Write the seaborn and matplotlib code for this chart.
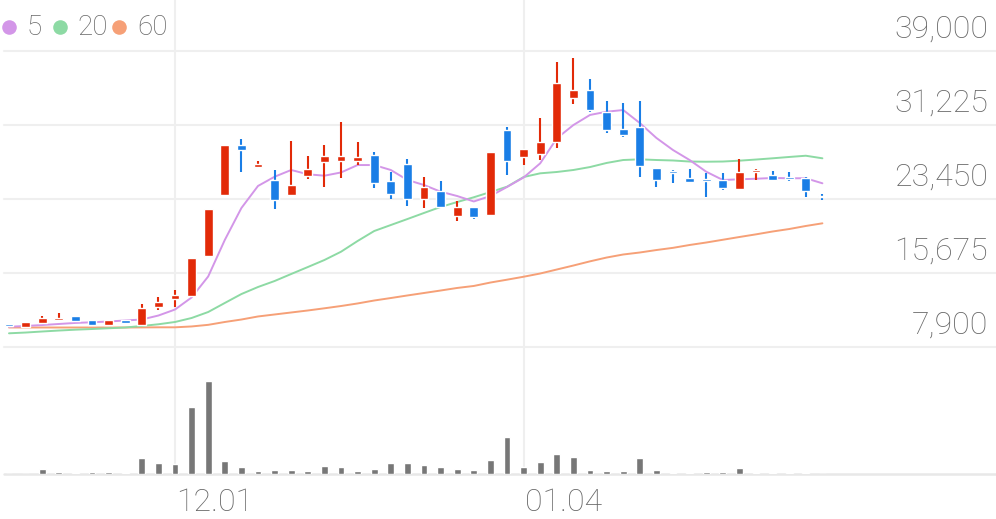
import pandas as pd
import seaborn as sns
import matplotlib.pyplot as plt
from matplotlib.lines import Line2D

# daily candles (price in KRW)
opens = [10200, 10020, 10400, 10730, 11150, 10720, 10230, 10720, 10230, 12060,
         12870, 13220, 17450, 23850, 29160, 26810, 25390, 23870, 25810, 27340,
         27400, 27400, 28110, 25280, 27120, 23450, 24230, 21690, 22640, 21760,
         30680, 27880, 28180, 29410, 34110, 34910, 32580, 30750, 31000, 26700,
         26340, 25700, 25540, 25390, 24510, 26280, 25990, 25740, 25700, 23770]
highs = [10200, 10470, 11180, 11470, 11150, 10720, 10720, 10720, 12420, 13120,
         13900, 17240, 22430, 29130, 29700, 27470, 26450, 29560, 27930, 29090,
         31500, 29450, 28390, 26270, 27650, 25750, 25280, 23270, 22640, 28390,
         31040, 28750, 31990, 37810, 38230, 36110, 33750, 33510, 33750, 26700,
         26520, 26600, 26170, 26200, 27680, 26630, 26340, 26240, 25700, 23980]
lows = [10100, 10020, 10400, 10730, 10580, 10150, 10040, 10360, 10230, 11810,
        12060, 13100, 17350, 23850, 26280, 26810, 22430, 23870, 25540, 24690,
        25630, 27050, 24580, 23450, 22710, 22470, 22570, 21160, 21340, 21760,
        25990, 27040, 27510, 28830, 33400, 32590, 30330, 29980, 25710, 24650,
        25110, 25180, 23630, 24400, 24510, 25460, 25280, 25280, 23700, 23350]
closes = [10100, 10470, 10940, 10970, 10580, 10150, 10720, 10360, 11990, 12590,
          13300, 17240, 22430, 29130, 28560, 27130, 23340, 24860, 26550, 27930,
          28000, 27870, 25110, 23980, 23420, 24750, 22570, 22570, 21580, 28390,
          27400, 28750, 29410, 35690, 34910, 32790, 30680, 30220, 26940, 25460,
          26200, 25180, 25360, 24580, 26240, 26520, 25390, 25570, 24230, 23600]
volume = [0.7, 0.7, 5.3, 2.7, 1.3, 2.0, 2.0, 1.0, 16.3, 11.7,
          10.3, 67.3, 93.0, 13.7, 7.0, 3.7, 4.7, 4.7, 3.3, 8.7,
          7.0, 3.0, 5.3, 11.7, 11.7, 9.0, 7.7, 5.3, 4.3, 14.3,
          37.3, 7.0, 12.7, 20.7, 17.3, 4.7, 3.7, 3.0, 16.0, 4.7,
          1.3, 1.3, 2.3, 2.0, 6.0, 1.3, 1.3, 1.0, 1.3, 0.7]

# moving averages
ma5 = [10000, 10080, 10180, 10290, 10400, 10470, 10550, 10660, 10760, 11180,
       11810, 13080, 15290, 19130, 22490, 24810, 25780, 26490, 26040, 25890,
       26230, 27010, 27010, 26490, 25440, 24910, 24210, 23750, 23180, 23750,
       24700, 25700, 27190, 29820, 31220, 32280, 32620, 32800, 31430, 29860,
       28590, 27540, 26310, 25440, 25510, 25570, 25650, 25620, 25620, 25090]
ma20 = [9310, 9390, 9500, 9600, 9690, 9760, 9840, 9920, 10080, 10260,
        10500, 10920, 11550, 12500, 13440, 14180, 14810, 15550, 16280, 17020,
        17890, 19020, 20070, 20700, 21330, 21970, 22600, 23120, 23620, 24170,
        24730, 25750, 26140, 26280, 26490, 26800, 27230, 27540, 27610, 27540,
        27490, 27380, 27360, 27380, 27470, 27590, 27720, 27860, 27990, 27720]
ma60 = [9920, 9920, 9920, 9920, 9920, 9920, 9920, 9920, 9930, 9940,
        9940, 10030, 10200, 10500, 10760, 11080, 11290, 11500, 11710, 11940,
        12180, 12450, 12760, 13020, 13290, 13550, 13810, 14080, 14290, 14650,
        14950, 15260, 15600, 16020, 16440, 16880, 17280, 17600, 17810, 18070,
        18300, 18600, 18860, 19150, 19440, 19720, 20020, 20280, 20600, 20880]

price_ticks = [7900, 15675, 23450, 31225, 39000]
date_pos = [10, 31]
date_labels = ["12.01", "01.04"]

df = pd.DataFrame({"open": opens, "high": highs, "low": lows, "close": closes,
                   "volume": volume, "ma5": ma5, "ma20": ma20, "ma60": ma60})
df["idx"] = range(len(df))

sns.set_theme(style="white")
plt.rcParams["font.family"] = ["Roboto", "DejaVu Sans"]

RED, BLUE = "#e22a08", "#1a7ee6"
C5, C20, C60 = "#d396e8", "#8ddaa4", "#f6a077"
TXT, GRID = "#676767", "#efefef"

fig = plt.figure(figsize=(9.96, 5.19), dpi=100)
ax = fig.add_axes([0, 159 / 519, 1, 360 / 519])
axv = fig.add_axes([0, 44.7 / 519, 1, 114.3 / 519])

for a in (ax, axv):
    a.set_xlim(-9 / 16.6, 987 / 16.6)
    a.set_axis_off()
    for p in date_pos:
        a.axvline(p, color=GRID, lw=1.5, zorder=0)

ax.set_ylim(6501, 44373)
for p in price_ticks:
    ax.axhline(p, xmin=0.004, color=GRID, lw=1.5, zorder=0)
    ax.annotate(f"{p:,}", xy=(1, p), xycoords=("axes fraction", "data"),
                xytext=(-8, 13), textcoords="offset pixels", ha="right",
                va="baseline", fontsize=23, color=TXT, fontweight="light")

# moving averages
for col, c in (("ma60", C60), ("ma20", C20), ("ma5", C5)):
    sns.lineplot(data=df, x="idx", y=col, color=c, lw=1.4, ax=ax, zorder=2)

# candles
up = df["close"] >= df["open"]
colors = [RED if u else BLUE for u in up]
ax.vlines(df["idx"], df["low"], df["high"], colors=colors, lw=1.5, zorder=3)
body = (df["close"] - df["open"]).abs().clip(lower=160)
bottom = df[["open", "close"]].min(axis=1)
ax.bar(df["idx"], body, bottom=bottom, width=0.52, color=colors, zorder=4)
ax.set_xlim(-9 / 16.6, 987 / 16.6)
ax.set_ylim(6501, 44373)
ax.set_axis_off()

# volume
sns.barplot(data=df, x="idx", y="volume", native_scale=True, width=0.4,
            color="#777777", saturation=1, ax=axv, zorder=2)
axv.axhline(0, xmin=0.004, color="#e8e8e8", lw=1.8, zorder=1, clip_on=False)
axv.set_xlim(-9 / 16.6, 987 / 16.6)
axv.set_ylim(0, 114.3)
axv.set_axis_off()
for p, lab in zip(date_pos, date_labels):
    axv.annotate(lab, xy=(p, 0), xycoords=("data", "axes fraction"),
                 xytext=(1, -37), textcoords="offset pixels", ha="left",
                 va="baseline", fontsize=23, color=TXT, fontweight="light")

# legend
for x_dot, x_txt, c, lab in ((9.3, 27, C5, "5"), (60, 77, C20, "20"),
                             (119, 137, C60, "60")):
    fig.add_artist(Line2D([x_dot / 996], [1 - 26.7 / 519], marker="o",
                          markersize=10.5, color=c, markeredgewidth=0,
                          transform=fig.transFigure))
    fig.text(x_txt / 996, 1 - 35 / 519, lab, fontsize=20, color=TXT,
             ha="left", va="baseline", fontweight="light")

fig.savefig("out.png", dpi=100, facecolor="white")
